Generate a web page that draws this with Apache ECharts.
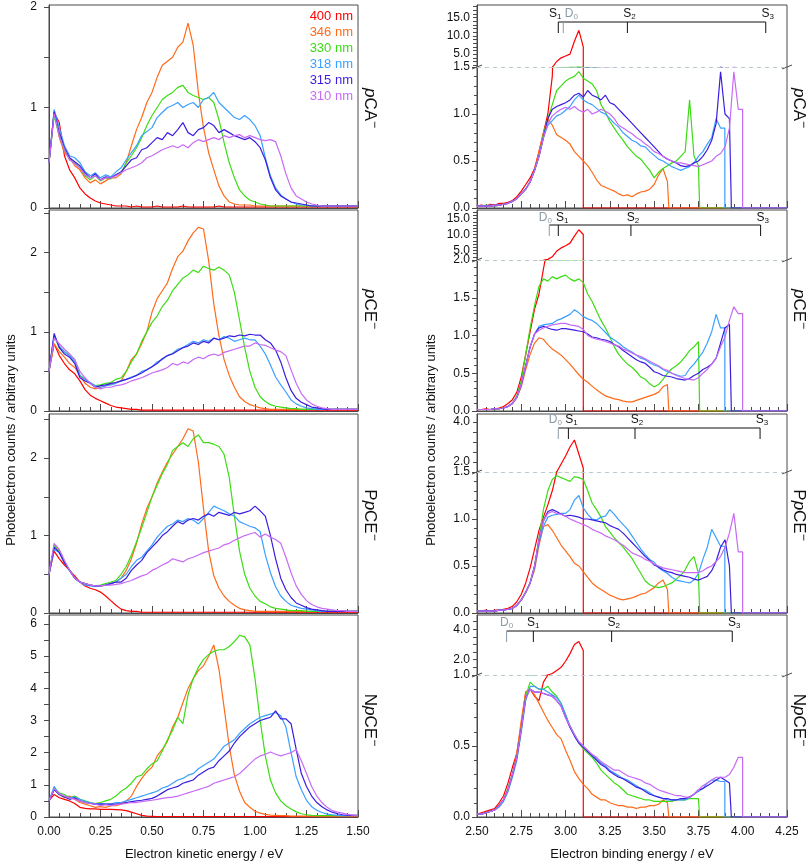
<!DOCTYPE html>
<html><head><meta charset="utf-8">
<script src="https://cdn.jsdelivr.net/npm/echarts@6/dist/echarts.min.js"></script>
<style>html,body{margin:0;padding:0;background:#fff}#c{width:810px;height:863px}</style>
</head><body><div id="c"></div><script>
// ---------- DATA ----------
const eKE = [0,0.025,0.05,0.075,0.1,0.125,0.15,0.175,0.2,0.225,0.25,0.275,0.3,0.325,0.35,0.375,0.4,0.425,0.45,0.475,0.5,0.525,0.55,0.575,0.6,0.625,0.65,0.675,0.7,0.725,0.75,0.775,0.8,0.825,0.85,0.875,0.9,0.925,0.95,0.975,1,1.025,1.05,1.075,1.1,1.125,1.15,1.175,1.2,1.225,1.25,1.275,1.3,1.325,1.35,1.375,1.4,1.425,1.45,1.475,1.5];
const eBE = [2.5,2.525,2.55,2.575,2.6,2.625,2.65,2.675,2.7,2.725,2.75,2.775,2.8,2.825,2.85,2.875,2.9,2.925,2.95,2.975,3,3.025,3.05,3.075,3.1,3.125,3.15,3.175,3.2,3.225,3.25,3.275,3.3,3.325,3.35,3.375,3.4,3.425,3.45,3.475,3.5,3.525,3.55,3.575,3.6,3.625,3.65,3.675,3.7,3.725,3.75,3.775,3.8,3.825,3.85,3.875,3.9,3.925,3.95,3.975,4];
const wavelengths = ['400 nm','346 nm','330 nm','318 nm','315 nm','310 nm'];
const photonEnergy = [3.100,3.583,3.757,3.899,3.936,3.9995];
const moleculeNames = [['','p','CA'],['','p','CE'],['P','p','CE'],['N','p','CE']];

// pCA- eKE spectra
const kePCA400 = [0.45,0.95,0.85,0.52,0.38,0.30,0.20,0.14,0.10,0.07, 0.05,0.04,0.03,0.02,0.02,0.02,0.01,0.02,0.01,0.01, 0.01,0.02,0.01,0.01,0.01,0.01,0.02,0.01,0.01,0.01, 0.01,0.01,0.01,0.02,0.01,0.01,0.01,0.01,0.01,0.01, 0.01,0.01,0.01,0.01,0.01,0.01,0.01,0.01,0.01,0.01, 0.01,0.01,0.01,0.01,0.01,0.01,0.01,0.01,0.01,0.01, 0.01];
const kePCA346 = [0.45,0.95,0.70,0.55,0.50,0.42,0.38,0.30,0.25,0.28, 0.24,0.27,0.30,0.30,0.34,0.45,0.62,0.78,0.90,1.05, 1.15,1.30,1.42,1.46,1.50,1.60,1.65,1.84,1.62,1.15, 0.80,0.55,0.38,0.22,0.12,0.06,0.04,0.03,0.03,0.03, 0.02,0.02,0.02,0.02,0.02,0.02,0.02,0.02,0.02,0.02, 0.02,0.02,0.02,0.02,0.02,0.02,0.02,0.02,0.02,0.02, 0.02];
const kePCA330 = [0.45,0.92,0.72,0.58,0.48,0.45,0.40,0.32,0.28,0.32, 0.27,0.30,0.29,0.33,0.35,0.45,0.52,0.60,0.70,0.82, 0.92,1.00,1.08,1.12,1.15,1.20,1.22,1.15,1.12,1.10, 1.08,1.10,1.05,0.88,0.65,0.45,0.30,0.18,0.12,0.08, 0.06,0.04,0.03,0.02,0.02,0.02,0.02,0.02,0.02,0.02, 0.02,0.02,0.02,0.02,0.02,0.02,0.02,0.02,0.02,0.02, 0.02];
const kePCA318 = [0.45,0.98,0.80,0.62,0.52,0.50,0.45,0.36,0.32,0.35, 0.30,0.33,0.31,0.36,0.40,0.48,0.55,0.62,0.72,0.76, 0.80,0.90,0.95,1.00,1.02,1.05,1.00,1.03,1.05,1.00, 1.08,1.10,1.15,1.05,1.00,0.95,0.90,0.88,0.92,0.88, 0.82,0.72,0.50,0.32,0.20,0.13,0.09,0.06,0.04,0.03, 0.03,0.02,0.02,0.02,0.02,0.02,0.02,0.02,0.02,0.02, 0.02];
const kePCA315 = [0.45,0.96,0.75,0.60,0.50,0.46,0.42,0.35,0.30,0.34, 0.28,0.31,0.30,0.33,0.36,0.42,0.48,0.50,0.58,0.60, 0.65,0.70,0.68,0.75,0.72,0.78,0.85,0.75,0.72,0.78, 0.80,0.85,0.82,0.75,0.78,0.75,0.72,0.70,0.68,0.70, 0.66,0.60,0.48,0.30,0.18,0.12,0.09,0.06,0.05,0.04, 0.03,0.02,0.02,0.02,0.02,0.02,0.02,0.02,0.02,0.02, 0.02];
const kePCA310 = [0.45,0.94,0.72,0.58,0.48,0.44,0.40,0.33,0.30,0.32, 0.28,0.30,0.30,0.32,0.35,0.38,0.40,0.42,0.45,0.50, 0.52,0.55,0.58,0.60,0.62,0.60,0.63,0.60,0.65,0.68, 0.66,0.68,0.70,0.68,0.72,0.70,0.72,0.73,0.70,0.72, 0.70,0.68,0.67,0.68,0.66,0.52,0.34,0.20,0.12,0.09, 0.06,0.04,0.03,0.02,0.02,0.02,0.02,0.02,0.02,0.02, 0.02];
// pCE- eKE spectra
const kePCE400 = [0.50,0.85,0.70,0.60,0.52,0.47,0.38,0.27,0.20,0.16, 0.13,0.10,0.07,0.05,0.04,0.03,0.02,0.02,0.01,0.01, 0.01,0.01,0.01,0.01,0.01,0.01,0.01,0.01,0.01,0.01, 0.01,0.01,0.01,0.01,0.01,0.01,0.01,0.01,0.01,0.01, 0.01,0.01,0.01,0.01,0.01,0.01,0.01,0.01,0.01,0.01, 0.01,0.01,0.01,0.01,0.01,0.01,0.01,0.01,0.01,0.01, 0.01];
const kePCE346 = [0.50,0.85,0.75,0.68,0.60,0.55,0.45,0.35,0.30,0.28, 0.30,0.32,0.34,0.36,0.38,0.50,0.65,0.72,0.85,1.00, 1.25,1.42,1.52,1.62,1.80,1.95,2.02,2.15,2.25,2.32, 2.30,1.90,1.35,0.95,0.65,0.45,0.30,0.18,0.12,0.08, 0.06,0.04,0.03,0.02,0.02,0.02,0.02,0.02,0.02,0.02, 0.02,0.02,0.02,0.02,0.02,0.02,0.02,0.02,0.02,0.02, 0.02];
const kePCE330 = [0.50,0.95,0.80,0.75,0.70,0.65,0.45,0.40,0.35,0.32, 0.33,0.35,0.36,0.40,0.42,0.50,0.62,0.72,0.88,1.00, 1.12,1.20,1.32,1.40,1.52,1.60,1.68,1.72,1.78,1.75, 1.83,1.80,1.78,1.82,1.78,1.72,1.50,1.15,0.80,0.50, 0.30,0.18,0.12,0.08,0.06,0.05,0.04,0.03,0.03,0.02, 0.02,0.02,0.02,0.02,0.02,0.02,0.02,0.02,0.02,0.02, 0.02];
const kePCE318 = [0.50,0.95,0.82,0.75,0.70,0.62,0.45,0.40,0.36,0.32, 0.30,0.32,0.33,0.35,0.38,0.40,0.43,0.45,0.50,0.52, 0.56,0.62,0.65,0.70,0.73,0.78,0.80,0.84,0.88,0.86, 0.90,0.88,0.92,0.90,0.94,0.92,0.88,0.90,0.92,0.90, 0.90,0.82,0.72,0.58,0.43,0.33,0.24,0.14,0.09,0.06, 0.04,0.03,0.02,0.02,0.02,0.02,0.02,0.02,0.02,0.02, 0.02];
const kePCE315 = [0.50,0.98,0.80,0.72,0.68,0.60,0.42,0.38,0.35,0.30, 0.32,0.33,0.35,0.36,0.38,0.40,0.42,0.45,0.48,0.52, 0.56,0.60,0.66,0.70,0.72,0.76,0.80,0.82,0.86,0.84, 0.88,0.86,0.92,0.90,0.92,0.95,0.94,0.96,0.95,0.97, 0.96,0.96,0.90,0.86,0.77,0.62,0.42,0.26,0.16,0.11, 0.08,0.05,0.04,0.03,0.02,0.02,0.02,0.02,0.02,0.02, 0.02];
const kePCE310 = [0.50,0.92,0.85,0.78,0.72,0.65,0.50,0.42,0.35,0.30, 0.28,0.30,0.30,0.32,0.33,0.35,0.38,0.40,0.42,0.45, 0.48,0.50,0.52,0.55,0.60,0.58,0.62,0.60,0.65,0.68, 0.66,0.70,0.72,0.70,0.74,0.76,0.78,0.80,0.82,0.82, 0.86,0.84,0.83,0.80,0.77,0.75,0.70,0.52,0.35,0.22, 0.14,0.09,0.06,0.04,0.03,0.02,0.02,0.02,0.02,0.02, 0.02];
// PpCE- eKE spectra
const kePPCE400 = [0.50,0.80,0.70,0.62,0.55,0.48,0.40,0.35,0.32,0.30, 0.27,0.22,0.16,0.10,0.05,0.03,0.02,0.02,0.01,0.01, 0.01,0.01,0.01,0.01,0.01,0.01,0.01,0.01,0.01,0.01, 0.01,0.01,0.01,0.01,0.01,0.01,0.01,0.01,0.01,0.01, 0.01,0.01,0.01,0.01,0.01,0.01,0.01,0.01,0.01,0.01, 0.01,0.01,0.01,0.01,0.01,0.01,0.01,0.01,0.01,0.01, 0.01];
const kePPCE346 = [0.50,0.85,0.80,0.65,0.55,0.45,0.40,0.38,0.36,0.35, 0.35,0.36,0.38,0.40,0.45,0.55,0.70,0.90,1.15,1.35, 1.50,1.68,1.82,1.95,2.05,2.15,2.25,2.38,2.35,1.95, 1.35,0.80,0.48,0.32,0.22,0.15,0.10,0.06,0.04,0.03, 0.02,0.02,0.02,0.02,0.02,0.02,0.02,0.02,0.02,0.02, 0.02,0.02,0.02,0.02,0.02,0.02,0.02,0.02,0.02,0.02, 0.02];
const kePPCE330 = [0.50,0.88,0.80,0.65,0.55,0.45,0.40,0.38,0.36,0.35, 0.36,0.38,0.40,0.42,0.50,0.60,0.75,0.92,1.10,1.30, 1.50,1.65,1.80,1.92,2.10,2.15,2.20,2.15,2.25,2.30, 2.20,2.20,2.18,2.15,2.05,1.75,1.25,0.80,0.50,0.32, 0.22,0.15,0.12,0.08,0.06,0.05,0.04,0.03,0.03,0.03, 0.02,0.02,0.02,0.02,0.02,0.02,0.02,0.02,0.02,0.02, 0.02];
const kePPCE318 = [0.50,0.82,0.78,0.65,0.55,0.45,0.40,0.36,0.35,0.34, 0.35,0.36,0.38,0.40,0.45,0.50,0.60,0.68,0.72,0.80, 0.88,0.98,1.05,1.12,1.15,1.20,1.18,1.22,1.20,1.15, 1.22,1.30,1.38,1.35,1.32,1.28,1.25,1.18,1.15,1.12, 1.10,1.05,0.75,0.52,0.34,0.22,0.15,0.10,0.08,0.06, 0.05,0.04,0.03,0.02,0.02,0.02,0.02,0.02,0.02,0.02, 0.02];
const kePPCE315 = [0.50,0.85,0.78,0.65,0.55,0.45,0.40,0.38,0.36,0.35, 0.35,0.36,0.38,0.40,0.40,0.45,0.55,0.62,0.68,0.78, 0.85,0.92,1.00,1.05,1.12,1.18,1.15,1.20,1.22,1.20, 1.25,1.28,1.25,1.30,1.28,1.26,1.30,1.28,1.30,1.32, 1.38,1.32,1.25,1.00,0.70,0.45,0.30,0.20,0.13,0.10, 0.07,0.05,0.04,0.03,0.02,0.02,0.02,0.02,0.02,0.02, 0.02];
const kePPCE310 = [0.50,0.90,0.82,0.68,0.55,0.45,0.40,0.38,0.36,0.35, 0.35,0.36,0.36,0.37,0.38,0.40,0.42,0.45,0.48,0.50, 0.55,0.58,0.62,0.65,0.70,0.68,0.66,0.70,0.72,0.75, 0.78,0.80,0.82,0.84,0.88,0.90,0.94,0.97,1.00,1.02, 1.04,0.98,1.02,0.98,0.95,0.90,0.72,0.52,0.35,0.24, 0.16,0.11,0.08,0.06,0.05,0.04,0.03,0.03,0.02,0.02, 0.02];
// NpCE- eKE spectra
const keNPCE400 = [0.50,0.70,0.60,0.55,0.50,0.42,0.30,0.27,0.25,0.25, 0.24,0.24,0.24,0.23,0.22,0.20,0.15,0.10,0.05,0.03, 0.02,0.01,0.01,0.01,0.01,0.01,0.01,0.01,0.01,0.01, 0.01,0.01,0.01,0.01,0.01,0.01,0.01,0.01,0.01,0.01, 0.01,0.01,0.01,0.01,0.01,0.01,0.01,0.01,0.01,0.01, 0.01,0.01,0.01,0.01,0.01,0.01,0.01,0.01,0.01,0.01, 0.01];
const keNPCE346 = [0.50,0.85,0.70,0.60,0.65,0.55,0.45,0.40,0.35,0.30, 0.32,0.30,0.35,0.35,0.40,0.50,0.65,0.95,1.20,1.40, 1.55,1.90,2.10,2.35,2.80,3.10,3.55,4.00,4.30,4.55, 4.70,5.00,5.35,4.60,3.40,2.20,1.30,0.80,0.45,0.30, 0.18,0.12,0.08,0.06,0.05,0.04,0.04,0.03,0.03,0.03, 0.03,0.03,0.03,0.03,0.03,0.03,0.03,0.03,0.03,0.03, 0.03];
const keNPCE330 = [0.50,0.90,0.75,0.70,0.60,0.65,0.55,0.50,0.45,0.42, 0.45,0.50,0.55,0.65,0.80,0.90,1.05,1.25,1.30,1.50, 1.65,1.75,2.05,2.40,2.70,3.10,2.90,3.80,4.30,4.65, 4.90,5.05,5.15,5.20,5.20,5.30,5.45,5.65,5.60,5.35, 4.30,3.00,1.90,1.15,0.75,0.50,0.35,0.25,0.16,0.10, 0.07,0.05,0.04,0.04,0.04,0.04,0.04,0.04,0.04,0.05, 0.05];
const keNPCE318 = [0.50,0.95,0.70,0.65,0.60,0.62,0.55,0.48,0.45,0.40, 0.42,0.40,0.40,0.45,0.45,0.50,0.55,0.60,0.65,0.70, 0.75,0.80,0.90,0.95,1.05,1.15,1.20,1.30,1.35,1.50, 1.60,1.70,1.80,2.00,2.20,2.30,2.40,2.60,2.75,2.90, 3.00,3.10,3.15,3.20,3.25,3.15,2.80,2.00,1.25,0.85, 0.52,0.32,0.21,0.14,0.09,0.07,0.05,0.04,0.04,0.04, 0.04];
const keNPCE315 = [0.50,0.85,0.70,0.62,0.55,0.60,0.50,0.45,0.42,0.40, 0.40,0.40,0.40,0.40,0.42,0.45,0.48,0.50,0.52,0.55, 0.58,0.65,0.75,0.85,0.90,0.95,1.05,1.10,1.15,1.30, 1.40,1.50,1.55,1.75,1.90,2.05,2.30,2.50,2.65,2.80, 2.90,3.00,3.05,3.10,3.30,3.05,3.05,2.90,2.10,1.35, 0.95,0.65,0.45,0.32,0.22,0.15,0.10,0.07,0.06,0.05, 0.05];
const keNPCE310 = [0.50,0.88,0.72,0.65,0.60,0.55,0.50,0.45,0.42,0.40, 0.35,0.38,0.35,0.38,0.40,0.42,0.45,0.45,0.48,0.50, 0.52,0.55,0.58,0.60,0.62,0.65,0.70,0.75,0.80,0.85, 0.90,0.95,1.05,1.10,1.15,1.20,1.25,1.35,1.50,1.65, 1.80,1.90,1.95,2.02,1.95,1.90,1.95,2.00,2.10,1.75, 1.35,0.95,0.65,0.45,0.30,0.20,0.15,0.12,0.08,0.06, 0.05];

// eBE spectra (values on eBE grid up to each photon-energy cutoff)
const bePCA400 = [0.02,0.03,0.02,0.04,0.03,0.05,0.05,0.06,0.08,0.12, 0.18,0.25,0.32,0.42,0.60,0.80,1.00,1.40,3.00,4.00, 4.50,5.00,8.50,11.50,7.00];
const bePCA346 = [0.02,0.02,0.02,0.02,0.02,0.03,0.04,0.05,0.07,0.10, 0.15,0.20,0.28,0.40,0.60,0.80,0.95,0.88,0.78,0.75, 0.72,0.68,0.60,0.55,0.50,0.45,0.38,0.30,0.24,0.22, 0.20,0.18,0.15,0.13,0.14,0.12,0.15,0.17,0.18,0.20, 0.25,0.35,0.42,0.28];
const bePCA330 = [0.02,0.02,0.03,0.02,0.03,0.03,0.04,0.05,0.07,0.10, 0.15,0.20,0.28,0.40,0.55,0.78,0.95,1.10,1.25,1.30, 1.35,1.38,1.40,1.45,1.38,1.35,1.32,1.25,1.10,1.02, 0.92,0.85,0.78,0.72,0.65,0.60,0.55,0.52,0.46,0.40, 0.32,0.38,0.42,0.45,0.48,0.50,0.55,0.60,1.15,0.55, 0.45];
const bePCA318 = [0.02,0.02,0.02,0.03,0.02,0.03,0.04,0.05,0.07,0.10, 0.15,0.20,0.28,0.40,0.55,0.75,0.88,0.93,0.98,1.00, 1.04,1.08,1.15,1.20,1.15,1.12,1.10,1.06,1.02,1.00, 0.95,0.90,0.86,0.80,0.76,0.72,0.70,0.66,0.65,0.60, 0.56,0.52,0.50,0.47,0.44,0.42,0.40,0.42,0.44,0.48, 0.55,0.60,0.68,0.75,0.95,0.85];
const bePCA315 = [0.02,0.02,0.02,0.02,0.03,0.03,0.04,0.05,0.07,0.10, 0.15,0.20,0.28,0.40,0.55,0.75,0.95,1.05,1.08,1.10, 1.12,1.15,1.20,1.22,1.18,1.25,1.20,1.18,1.15,1.20, 1.12,1.10,1.05,1.00,0.95,0.90,0.85,0.80,0.75,0.70, 0.65,0.60,0.55,0.52,0.50,0.48,0.45,0.44,0.45,0.48, 0.50,0.55,0.62,0.72,0.90,1.45,1.00,0.95];
const bePCA310 = [0.02,0.02,0.02,0.02,0.03,0.03,0.04,0.05,0.07,0.10, 0.15,0.20,0.28,0.40,0.55,0.75,0.90,0.98,1.02,1.05, 1.07,1.05,1.08,1.04,1.02,1.05,1.00,1.02,1.05,1.03, 1.00,0.95,0.88,0.85,0.82,0.79,0.75,0.72,0.68,0.65, 0.60,0.58,0.55,0.52,0.50,0.48,0.48,0.47,0.46,0.45, 0.44,0.46,0.48,0.50,0.55,0.58,0.65,0.85,1.45,1.05];
const bePCE400 = [0.02,0.02,0.03,0.02,0.03,0.04,0.06,0.10,0.15,0.25, 0.45,0.75,1.05,1.35,1.55,1.88,2.20,3.00,4.80,5.80, 6.50,7.30,9.50,11.50,10.00];
const bePCE346 = [0.02,0.02,0.02,0.02,0.02,0.03,0.04,0.06,0.10,0.18, 0.32,0.55,0.75,0.90,0.97,0.95,0.88,0.82,0.78,0.74, 0.68,0.62,0.55,0.48,0.42,0.38,0.33,0.28,0.24,0.20, 0.18,0.16,0.15,0.13,0.12,0.12,0.14,0.16,0.18,0.20, 0.22,0.25,0.32,0.35];
const bePCE330 = [0.02,0.02,0.02,0.02,0.03,0.03,0.04,0.06,0.10,0.20, 0.40,0.75,1.10,1.40,1.65,1.75,1.72,1.78,1.75,1.78, 1.80,1.75,1.72,1.75,1.70,1.55,1.45,1.32,1.20,1.10, 0.98,0.85,0.75,0.68,0.62,0.58,0.52,0.45,0.42,0.36, 0.32,0.35,0.42,0.50,0.56,0.60,0.65,0.72,0.80,0.85, 0.92];
const bePCE318 = [0.02,0.02,0.02,0.02,0.03,0.03,0.04,0.06,0.10,0.18, 0.35,0.60,0.85,1.02,1.12,1.14,1.15,1.16,1.20,1.22, 1.25,1.28,1.34,1.30,1.25,1.22,1.20,1.16,1.10,1.04, 0.98,0.94,0.90,0.85,0.81,0.78,0.74,0.70,0.68,0.64, 0.61,0.59,0.55,0.52,0.50,0.48,0.46,0.47,0.56,0.62, 0.70,0.78,0.90,1.05,1.28,1.10];
const bePCE315 = [0.02,0.02,0.02,0.02,0.03,0.03,0.04,0.06,0.10,0.18, 0.35,0.60,0.85,1.02,1.10,1.12,1.10,1.08,1.07,1.09, 1.09,1.08,1.07,1.06,1.05,1.02,0.98,0.97,0.95,0.94, 0.92,0.88,0.85,0.80,0.76,0.72,0.68,0.65,0.63,0.58, 0.52,0.50,0.47,0.46,0.45,0.43,0.42,0.41,0.43,0.47, 0.50,0.55,0.58,0.62,0.70,0.90,1.10,1.15];
const bePCE310 = [0.02,0.02,0.02,0.02,0.03,0.03,0.04,0.06,0.10,0.18, 0.35,0.60,0.85,1.02,1.07,1.10,1.12,1.14,1.15,1.16, 1.16,1.14,1.13,1.12,1.08,1.00,0.97,0.95,0.94,0.92, 0.90,0.88,0.86,0.82,0.80,0.77,0.74,0.72,0.69,0.66, 0.63,0.60,0.56,0.54,0.50,0.47,0.45,0.43,0.42,0.41, 0.44,0.50,0.55,0.62,0.70,0.85,0.98,1.20,1.38,1.29];
const bePPCE400 = [0.02,0.02,0.03,0.02,0.03,0.03,0.04,0.05,0.07,0.12, 0.20,0.32,0.48,0.68,0.88,1.02,1.15,1.30,1.50,1.90, 2.30,2.75,3.10,2.40,1.70];
const bePPCE346 = [0.02,0.02,0.02,0.02,0.02,0.03,0.03,0.04,0.05,0.08, 0.14,0.22,0.32,0.46,0.72,0.92,0.94,0.88,0.80,0.72, 0.66,0.60,0.53,0.50,0.44,0.38,0.32,0.28,0.25,0.22, 0.19,0.17,0.15,0.14,0.15,0.16,0.18,0.20,0.21,0.24, 0.27,0.32,0.35,0.25];
const bePPCE330 = [0.02,0.02,0.02,0.02,0.02,0.03,0.03,0.04,0.05,0.08, 0.14,0.22,0.32,0.50,0.80,1.10,1.30,1.42,1.46,1.44, 1.42,1.40,1.45,1.44,1.42,1.30,1.17,1.10,1.02,0.92, 0.86,0.80,0.75,0.70,0.64,0.58,0.50,0.42,0.34,0.30, 0.28,0.27,0.28,0.30,0.32,0.36,0.40,0.46,0.55,0.60, 0.42];
const bePPCE318 = [0.02,0.02,0.02,0.02,0.02,0.03,0.03,0.04,0.05,0.08, 0.14,0.22,0.32,0.48,0.75,0.92,1.02,1.04,1.05,1.06, 1.06,1.10,1.20,1.25,1.12,1.05,1.00,0.99,1.02,1.03, 1.10,1.05,0.99,0.94,0.89,0.82,0.75,0.68,0.62,0.57, 0.54,0.48,0.45,0.42,0.38,0.35,0.34,0.33,0.32,0.35, 0.42,0.57,0.70,0.89,0.80,0.71];
const bePPCE315 = [0.02,0.02,0.02,0.02,0.02,0.03,0.03,0.04,0.05,0.08, 0.14,0.22,0.32,0.50,0.78,0.98,1.08,1.10,1.08,1.05, 1.03,1.04,1.03,1.02,1.00,1.00,0.99,0.98,0.97,0.96, 0.93,0.91,0.89,0.85,0.80,0.75,0.70,0.65,0.60,0.56, 0.51,0.49,0.46,0.44,0.43,0.41,0.40,0.39,0.38,0.36, 0.35,0.37,0.39,0.45,0.55,0.70,0.78,0.50];
const bePPCE310 = [0.02,0.02,0.02,0.02,0.02,0.03,0.03,0.04,0.05,0.08, 0.14,0.22,0.32,0.50,0.78,0.98,1.06,1.08,1.06,1.05, 1.03,1.00,0.98,0.96,0.94,0.92,0.89,0.87,0.85,0.82, 0.80,0.78,0.75,0.72,0.68,0.64,0.62,0.60,0.57,0.55, 0.52,0.50,0.48,0.47,0.46,0.45,0.44,0.43,0.43,0.43, 0.43,0.45,0.48,0.50,0.55,0.60,0.70,0.85,1.06,0.65];
const beNPCE400 = [0.02,0.03,0.04,0.05,0.06,0.10,0.15,0.24,0.35,0.45, 0.65,0.88,0.90,0.85,0.82,0.95,1.00,1.10,1.30,1.50, 1.90,2.40,3.00,3.20,2.60];
const beNPCE346 = [0.02,0.02,0.03,0.04,0.05,0.08,0.12,0.20,0.30,0.45, 0.68,0.88,0.90,0.86,0.80,0.74,0.68,0.63,0.58,0.55, 0.47,0.40,0.32,0.27,0.23,0.20,0.16,0.14,0.12,0.12, 0.10,0.09,0.08,0.08,0.07,0.07,0.06,0.07,0.07,0.08, 0.08,0.09,0.12,0.10];
const beNPCE330 = [0.02,0.02,0.03,0.04,0.05,0.08,0.12,0.20,0.30,0.42, 0.62,0.85,0.95,0.92,0.90,0.90,0.92,0.88,0.85,0.80, 0.72,0.64,0.58,0.52,0.48,0.45,0.42,0.38,0.33,0.30, 0.27,0.24,0.22,0.19,0.16,0.15,0.14,0.13,0.12,0.12, 0.11,0.11,0.11,0.11,0.11,0.12,0.12,0.12,0.13,0.13, 0.13];
const beNPCE318 = [0.02,0.02,0.03,0.04,0.05,0.07,0.11,0.18,0.28,0.40, 0.60,0.82,0.92,0.92,0.90,0.90,0.88,0.86,0.84,0.80, 0.72,0.64,0.58,0.53,0.50,0.46,0.44,0.41,0.38,0.36, 0.33,0.31,0.29,0.27,0.26,0.24,0.22,0.20,0.19,0.17, 0.15,0.14,0.13,0.12,0.12,0.12,0.12,0.12,0.14,0.16, 0.18,0.20,0.24,0.26,0.26,0.25];
const beNPCE315 = [0.02,0.02,0.03,0.04,0.05,0.08,0.12,0.19,0.30,0.42, 0.62,0.84,0.90,0.88,0.88,0.87,0.86,0.85,0.82,0.78, 0.70,0.63,0.57,0.52,0.49,0.46,0.43,0.40,0.37,0.35, 0.32,0.30,0.28,0.27,0.25,0.23,0.21,0.20,0.18,0.16, 0.15,0.14,0.13,0.13,0.12,0.12,0.13,0.13,0.14,0.16, 0.19,0.20,0.22,0.24,0.26,0.28,0.26,0.24];
const beNPCE310 = [0.02,0.02,0.03,0.04,0.05,0.08,0.12,0.19,0.30,0.42, 0.62,0.84,0.90,0.88,0.88,0.87,0.86,0.85,0.82,0.78, 0.70,0.64,0.58,0.53,0.50,0.47,0.44,0.42,0.39,0.37, 0.35,0.33,0.33,0.31,0.29,0.28,0.27,0.26,0.24,0.23, 0.21,0.19,0.18,0.17,0.16,0.15,0.15,0.14,0.14,0.16, 0.19,0.22,0.24,0.26,0.28,0.28,0.28,0.30,0.35,0.42];

// state energies (eV) for the bracket annotations
const stateD0 = [2.987, 2.908, 2.959, 2.667];
const stateS1 = [2.959, 2.959, 3.016, 2.818];
const stateS2 = [3.349, 3.369, 3.392, 3.260];
const stateS3 = [4.130, 4.101, 4.098, 3.941];

// axis extents / tick labels
const leftYMax = [2.02, 2.54, 2.57, 6.28];
const leftYLabels = [[0,1,2],[0,1,2],[0,1,2],[0,1,2,3,4,5,6]];
const breakVal = [1.5, 2.0, 1.5, 1.0];
const upperMax = [18.4, 17.7, 4.4, 4.93];
const upperLabels = [[5,10,15],[5,10,15],[2,4],[2,4]];
const upperTicks = [[2,3,4,5,6,7,8,9,10,11,12,13,14,15,16,17,18],[3,4,5,6,7,8,9,10,11,12,13,14,15,16,17],[2,2.5,3,3.5,4],[1.5,2,2.5,3,3.5,4,4.5]];

const keSets = [
  [kePCA400,kePCA346,kePCA330,kePCA318,kePCA315,kePCA310],
  [kePCE400,kePCE346,kePCE330,kePCE318,kePCE315,kePCE310],
  [kePPCE400,kePPCE346,kePPCE330,kePPCE318,kePPCE315,kePPCE310],
  [keNPCE400,keNPCE346,keNPCE330,keNPCE318,keNPCE315,keNPCE310]];
const beSets = [
  [bePCA400,bePCA346,bePCA330,bePCA318,bePCA315,bePCA310],
  [bePCE400,bePCE346,bePCE330,bePCE318,bePCE315,bePCE310],
  [bePPCE400,bePPCE346,bePPCE330,bePPCE318,bePPCE315,bePPCE310],
  [beNPCE400,beNPCE346,beNPCE330,beNPCE318,beNPCE315,beNPCE310]];

// ---------- STYLE / LAYOUT ----------
const colors = ['#ff0000','#ff6a1a','#3cdc14','#3aa0ff','#3a1ee0','#c86af5'];
const FONT = '"Liberation Sans", Arial, Helvetica, sans-serif';
const AX = '#4a4a4a';
const panelTop = [5, 210, 414, 615];
const panelBottom = [208, 411, 613, 817];
const breakPx = [67, 260, 472, 675];
const L_LEFT = 49, L_W = 309, R_LEFT = 477, R_W = 310;

const grids = [], xAxes = [], yAxes = [], series = [];
const tickStyle = {color: AX, width: 1};
for (let p = 0; p < 4; p++) {
  const h = panelBottom[p] - panelTop[p];
  // --- left panel (index p*4)
  grids.push({left: L_LEFT, top: panelTop[p], width: L_W, height: h, show: true, borderColor: AX, borderWidth: 1});
  xAxes.push({gridIndex: p*4, type: 'value', min: 0, max: 1.5, interval: 0.25,
    axisLine: {show: true, lineStyle: tickStyle}, axisTick: {show: true, inside: true, length: 7, lineStyle: tickStyle},
    minorTick: {show: true, splitNumber: 5, length: 4, lineStyle: tickStyle},
    axisLabel: {show: p === 3, formatter: v => v.toFixed(2), margin: 9, fontSize: 12, color: '#111', fontFamily: FONT},
    splitLine: {show: false}});
  const lt = [];
  for (let v = 0; v <= leftYMax[p] + 1e-9; v += 0.5) lt.push(v);
  yAxes.push({gridIndex: p*4, type: 'value', min: 0, max: leftYMax[p],
    axisLine: {show: true, lineStyle: tickStyle}, axisTick: {show: true, length: 5, customValues: lt, lineStyle: tickStyle},
    axisLabel: {customValues: leftYLabels[p], margin: 12, fontSize: 12, color: '#111', fontFamily: FONT},
    splitLine: {show: false}});
  // --- right frame (p*4+1)
  grids.push({left: R_LEFT, top: panelTop[p], width: R_W, height: h, show: true, borderColor: AX, borderWidth: 1});
  xAxes.push({gridIndex: p*4+1, type: 'value', show: false, min: 0, max: 1});
  yAxes.push({gridIndex: p*4+1, type: 'value', show: false, min: 0, max: 1});
  // --- right lower (p*4+2)
  grids.push({left: R_LEFT, top: breakPx[p], width: R_W, height: panelBottom[p] - breakPx[p]});
  xAxes.push({gridIndex: p*4+2, type: 'value', min: 2.5, max: 4.25, interval: 0.25,
    axisLine: {show: true, lineStyle: tickStyle}, axisTick: {show: true, inside: true, length: 7, lineStyle: tickStyle},
    minorTick: {show: true, splitNumber: 5, length: 4, lineStyle: tickStyle},
    axisLabel: {show: p === 3, formatter: v => v.toFixed(2), margin: 9, fontSize: 12, color: '#111', fontFamily: FONT},
    splitLine: {show: false}});
  yAxes.push({gridIndex: p*4+2, type: 'value', min: 0, max: breakVal[p], interval: 0.5,
    axisLine: {show: true, lineStyle: tickStyle}, axisTick: {show: true, length: 5, lineStyle: tickStyle},
    minorTick: {show: true, splitNumber: 5, length: 3, lineStyle: tickStyle},
    axisLabel: {formatter: v => v.toFixed(1), margin: 7, fontSize: 12, color: '#111', fontFamily: FONT},
    splitLine: {show: false}});
  // --- right upper (p*4+3)
  grids.push({left: R_LEFT, top: panelTop[p], width: R_W, height: breakPx[p] - panelTop[p]});
  xAxes.push({gridIndex: p*4+3, type: 'value', min: 2.5, max: 4.25, show: false});
  yAxes.push({gridIndex: p*4+3, type: 'value', min: breakVal[p], max: upperMax[p],
    axisLine: {show: true, lineStyle: tickStyle}, axisTick: {show: true, length: 4, customValues: upperTicks[p], lineStyle: tickStyle},
    axisLabel: {customValues: upperLabels[p], formatter: v => v.toFixed(1), margin: 7, fontSize: 12, color: '#111', fontFamily: FONT},
    splitLine: {show: false}});

  for (let c = 0; c < 6; c++) {
    const kd = keSets[p][c].map((y, i) => [eKE[i], y]);
    series.push({type: 'line', name: wavelengths[c], xAxisIndex: p*4, yAxisIndex: p*4, data: kd,
      symbol: 'none', lineStyle: {width: 1.2, color: colors[c]}, color: colors[c], animation: false, clip: true});
    const arr = beSets[p][c];
    const bd = arr.map((y, i) => [eBE[i], y]);
    bd.push([photonEnergy[c], arr[arr.length - 1]], [photonEnergy[c], 0], [4.25, 0]);
    const low = {type: 'line', name: wavelengths[c], xAxisIndex: p*4+2, yAxisIndex: p*4+2, data: bd,
      symbol: 'none', lineStyle: {width: 1.2, color: colors[c]}, color: colors[c], animation: false, clip: true};
    if (c === 0) {
      low.markLine = {silent: true, symbol: ['none','none'], label: {show: false}, animation: false,
        lineStyle: {type: [4, 4], color: '#b9c7cf', width: 1}, data: [{yAxis: breakVal[p]}]};
    }
    series.push(low);
    series.push({type: 'line', name: wavelengths[c], xAxisIndex: p*4+3, yAxisIndex: p*4+3, data: bd,
      symbol: 'none', lineStyle: {width: 1.2, color: colors[c]}, color: colors[c], animation: false, clip: true});
  }
}

const chart = echarts.init(document.getElementById('c'), null, {renderer: 'canvas'});
chart.setOption({animation: false, backgroundColor: '#fff', grid: grids, xAxis: xAxes, yAxis: yAxes, series: series});

// ---------- annotations ----------
const g = [];
const txt = (x, y, text, opts) => Object.assign({type: 'text', x: x, y: y, silent: true,
  style: Object.assign({text: text, x: 0, y: 0, fill: '#111', fontSize: 13, fontFamily: FONT, align: 'center', verticalAlign: 'middle'}, opts || {})}, {});
// legend
wavelengths.forEach((w, i) => g.push(txt(353, 16 + 16*i, w, {fill: colors[i], align: 'right', fontSize: 13})));
// axis titles
g.push(txt(204, 854, 'Electron kinetic energy / eV', {fontSize: 13}));
g.push(txt(632, 854, 'Electron binding energy / eV', {fontSize: 13}));
const yt1 = txt(11, 440, 'Photoelectron counts / arbitrary units', {fontSize: 13}); yt1.rotation = Math.PI/2; g.push(yt1);
const yt2 = txt(431, 440, 'Photoelectron counts / arbitrary units', {fontSize: 13}); yt2.rotation = Math.PI/2; g.push(yt2);
// molecule labels
const molY = [108, 309, 515, 720];
const richMol = {
  n: {fontSize: 17, fontFamily: FONT, fill: '#111', lineHeight: 20},
  i: {fontSize: 17, fontFamily: FONT, fontStyle: 'italic', fill: '#111', lineHeight: 20},
  s: {fontSize: 12, fontFamily: FONT, fill: '#111', lineHeight: 20, verticalAlign: 'top', padding: [0, 0, 8, 0]}
};
moleculeNames.forEach((m, p) => {
  const t = (m[0] ? '{n|' + m[0] + '}' : '') + '{i|' + m[1] + '}{n|' + m[2] + '}{s|−}';
  [370, 799].forEach(x => {
    const e = txt(x, molY[p], t, {rich: richMol});
    e.rotation = -Math.PI/2; g.push(e);
  });
});
// breaks + state brackets
const GRAY = '#8b9ba6';
const bracketDy = [17, 15, 14, 16];
const labelDy = [9, 8, 6, 8];
const d0Dx = [8, -4, -3, 0], s1Dx = [-3, 4, 3, 0];
const richS = (col) => ({m: {fontSize: 12, fontFamily: FONT, fill: col, lineHeight: 13},
  sub: {fontSize: 8, fontFamily: FONT, fill: col, lineHeight: 8, verticalAlign: 'bottom', padding: [6, 0, 0, 0]}});
for (let p = 0; p < 4; p++) {
  const gi = p*4 + 2;
  const a = chart.convertToPixel({gridIndex: gi}, [2.5, breakVal[p]]);
  const b = chart.convertToPixel({gridIndex: gi}, [4.25, breakVal[p]]);
  [a, b].forEach(pt => g.push({type: 'line', silent: true, shape: {x1: pt[0]-5, y1: pt[1]+2, x2: pt[0]+5, y2: pt[1]-2}, style: {stroke: AX, lineWidth: 1}}));
  const px = e => chart.convertToPixel({xAxisIndex: gi}, e);
  const xD = px(stateD0[p]), x1 = px(stateS1[p]), x2 = px(stateS2[p]), x3 = px(stateS3[p]);
  const yL = panelTop[p] + bracketDy[p];
  g.push({type: 'line', silent: true, shape: {x1: Math.min(xD, x1), y1: yL, x2: x3, y2: yL}, style: {stroke: '#111', lineWidth: 1}});
  [[x1, '#111'], [x2, '#111'], [x3, '#111'], [xD, GRAY]].forEach(([x, col]) =>
    g.push({type: 'line', silent: true, shape: {x1: x, y1: yL, x2: x, y2: yL + 11}, style: {stroke: col, lineWidth: 1}}));
  const yT = panelTop[p] + labelDy[p];
  g.push(txt(xD + d0Dx[p], yT, '{m|D}{sub|0}', {rich: richS(GRAY)}));
  g.push(txt(x1 + s1Dx[p], yT, '{m|S}{sub|1}', {rich: richS('#111')}));
  g.push(txt(x2 + 2, yT, '{m|S}{sub|2}', {rich: richS('#111')}));
  g.push(txt(x3 + 2, yT, '{m|S}{sub|3}', {rich: richS('#111')}));
}
chart.setOption({graphic: {elements: g}});
</script></body></html>
